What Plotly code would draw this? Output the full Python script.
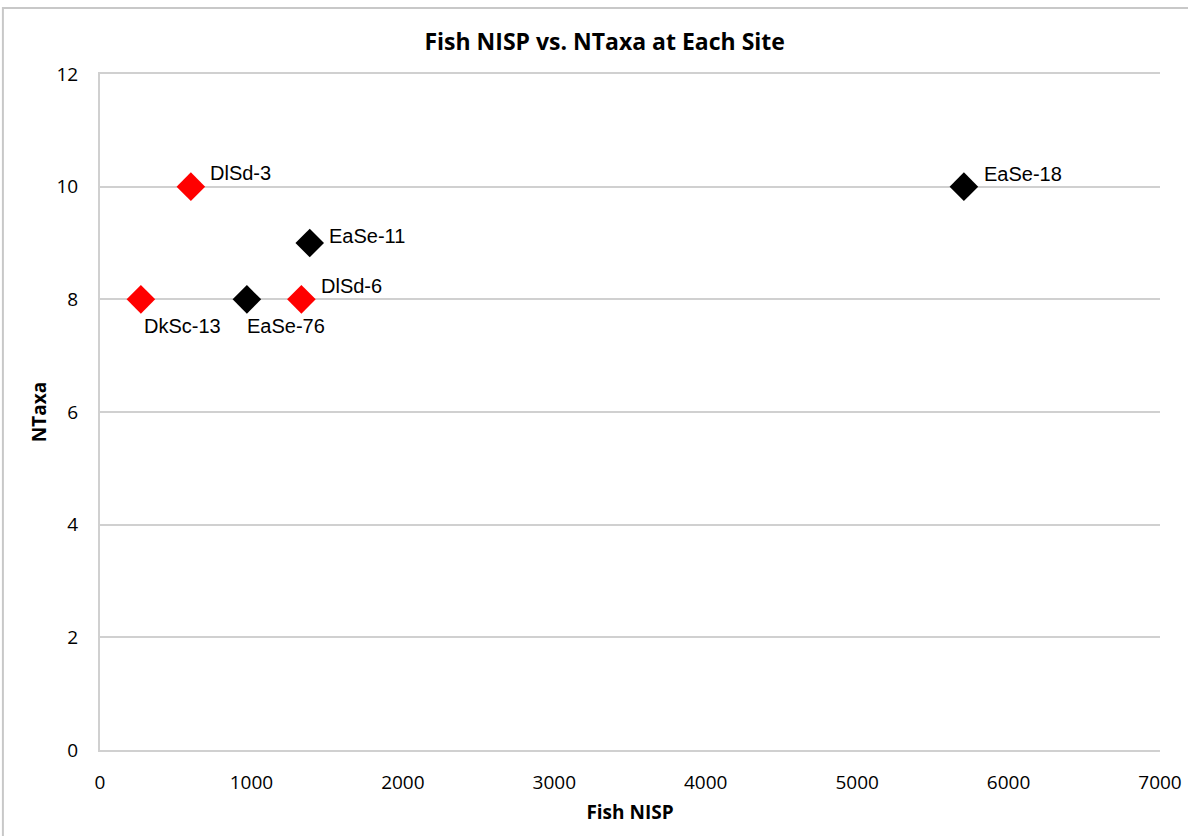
import plotly.graph_objects as go

# Site data: fish NISP (x) against number of taxa (y)
red_sites = ["DlSd-3", "DkSc-13", "DlSd-6"]
red_nisp = [600, 270, 1330]
red_ntaxa = [10, 8, 8]

black_sites = ["EaSe-76", "EaSe-11", "EaSe-18"]
black_nisp = [970, 1385, 5705]
black_ntaxa = [8, 9, 10]

x_ticks = [0, 1000, 2000, 3000, 4000, 5000, 6000, 7000]
y_ticks = [0, 2, 4, 6, 8, 10, 12]

# pixel offsets for each site label (left edge, vertical centre)
label_offsets = {
    "DlSd-3": (17, 14),
    "DkSc-13": (1, -27),
    "DlSd-6": (18, 13),
    "EaSe-76": (-2, -27),
    "EaSe-11": (17, 7),
    "EaSe-18": (18, 13),
}

LABEL_FONT = "Liberation Sans, Arial, sans-serif"
UI_FONT = "Open Sans, sans-serif"
GRID = "#d0d0d0"

fig = go.Figure()
fig.add_trace(go.Scatter(
    x=red_nisp, y=red_ntaxa, mode="markers",
    marker=dict(symbol="diamond", size=22, color="#ff0000", line=dict(width=0)),
    showlegend=False, hoverinfo="x+y",
))
fig.add_trace(go.Scatter(
    x=black_nisp, y=black_ntaxa, mode="markers",
    marker=dict(symbol="diamond", size=22, color="#000000", line=dict(width=0)),
    showlegend=False, hoverinfo="x+y",
))

for names, xs, ys in [(red_sites, red_nisp, red_ntaxa), (black_sites, black_nisp, black_ntaxa)]:
    for n, xv, yv in zip(names, xs, ys):
        dx, dy = label_offsets[n]
        fig.add_annotation(
            x=xv, y=yv, text=n, showarrow=False,
            xanchor="left", yanchor="middle", xshift=dx, yshift=dy,
            font=dict(family=LABEL_FONT, size=20, color="#000000"),
        )

# light border around the chart area
fig.add_shape(
    type="rect", xref="paper", yref="paper",
    x0=-0.0916, x1=1.05, y0=-0.2, y1=1.0976,
    line=dict(color="#c8c8c8", width=2), fillcolor="rgba(0,0,0,0)", layer="below",
)

fig.update_layout(
    width=1188, height=836,
    margin=dict(l=100, r=28, t=74, b=86, autoexpand=False),
    paper_bgcolor="white", plot_bgcolor="white",
    title=dict(
        text="<b>Fish NISP vs. NTaxa at Each Site</b>",
        x=0.509, xanchor="center", y=0.95, yanchor="middle",
        font=dict(family=UI_FONT, size=23, color="#000000"),
    ),
    xaxis=dict(
        range=[0, 7000], tickvals=x_ticks, ticktext=[str(v) for v in x_ticks],
        showgrid=False, zeroline=False,
        showline=True, mirror=True, linecolor=GRID, linewidth=2,
        ticks="outside", ticklen=14, tickcolor="rgba(0,0,0,0)",
        tickfont=dict(family=UI_FONT, size=19, color="#000000"),
        title=dict(text="<b>Fish NISP</b>", standoff=12,
                   font=dict(family=UI_FONT, size=19, color="#000000")),
        automargin=False, fixedrange=True,
    ),
    yaxis=dict(
        range=[0, 12], tickvals=y_ticks, ticktext=[str(v) for v in y_ticks],
        showgrid=True, gridcolor=GRID, gridwidth=2,
        zeroline=False, showline=True, linecolor=GRID, linewidth=2,
        ticks="outside", ticklen=16, tickcolor="rgba(0,0,0,0)",
        tickfont=dict(family=UI_FONT, size=19, color="#000000"),
        title=dict(text="<b>NTaxa</b>", standoff=5,
                   font=dict(family=UI_FONT, size=19, color="#000000")),
        automargin=False, fixedrange=True,
    ),
)

fig.write_html("out.html")
